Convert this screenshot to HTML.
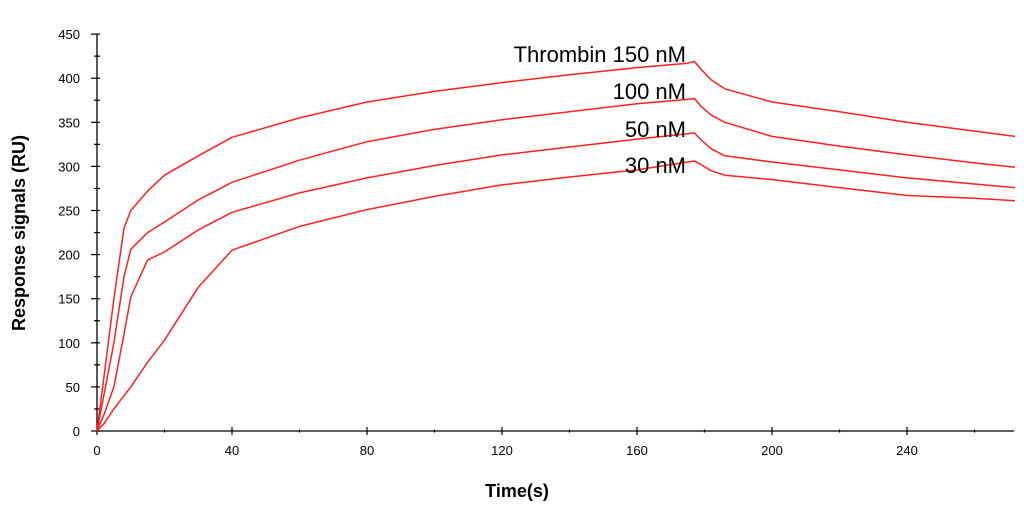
<!DOCTYPE html>
<html><head><meta charset="utf-8"><style>
body{margin:0;background:#fff;}
svg{display:block;font-family:"Liberation Sans",Arial,sans-serif;}
</style></head><body>
<svg id="chart" width="1024" height="512" viewBox="0 0 1024 512">
<g id="axes"></g>
<g id="series"></g>
<text transform="translate(25,233) rotate(-90)" text-anchor="middle" font-size="18" font-weight="bold">Response signals (RU)</text>
<text x="517" y="497" text-anchor="middle" font-size="18" font-weight="bold">Time(s)</text>
<text x="686" y="62" text-anchor="end" font-size="22">Thrombin 150 nM</text>
<text x="686" y="99" text-anchor="end" font-size="22">100 nM</text>
<text x="686" y="137" text-anchor="end" font-size="22">50 nM</text>
<text x="686" y="173" text-anchor="end" font-size="22">30 nM</text>
</svg>
<script>
const times = [0,2,5,8,10,15,20,30,40,60,80,100,120,140,160,175,177,179,182,186,200,220,240,260,272];
const s150 = [0,60,150,230,250,272,290,312,333,355,373,385,395,404,412,417,419,410,398,388,373,362,350,340,334];
const s100 = [0,40,100,175,206,225,237,262,282,307,328,342,353,362,371,376,377,368,358,350,334,323,313,304,299];
const s50  = [0,18,50,110,152,194,203,228,248,270,287,301,313,322,331,337,338,330,320,312,305,296,287,280,276];
const s30  = [0,8,25,40,50,78,103,163,205,232,251,266,279,288,296,305,306,302,295,290,285,276,267,264,261];
const seriesList = [s150,s100,s50,s30];
const seriesNames = ['series-150nm','series-100nm','series-50nm','series-30nm'];
const yTicks = [0,50,100,150,200,250,300,350,400,450];
const xTicks = [0,40,80,120,160,200,240];

const X0=97, PXS=3.375, Y0=431, PYU=0.882;
const xs = t => X0 + t*PXS;
const ys = v => Y0 - v*PYU;
const NS='http://www.w3.org/2000/svg';
const axes=document.getElementById('axes');
function mk(tag,attrs,parent){const e=document.createElementNS(NS,tag);for(const k in attrs)e.setAttribute(k,attrs[k]);parent.appendChild(e);return e;}
let l=mk('line',{x1:X0,y1:ys(450),x2:X0,y2:Y0,stroke:'#000','stroke-width':1.3},axes);


l=mk('line',{x1:X0,y1:Y0,x2:1014,y2:Y0,stroke:'#000','stroke-width':1.3},axes);


for(let v=0;v<=450;v+=25){
  const major=v%50===0;
  const t=mk('line',{x1:major?X0-6:X0-3,y1:ys(v),x2:X0+3,y2:ys(v),stroke:'#000','stroke-width':1.2},axes);
  
  
}
yTicks.forEach(v=>{
  const t=mk('text',{x:80,y:ys(v)+5,'text-anchor':'end','font-size':13},axes);
  t.textContent=v;
  
  
});
for(let v=0;v<=260;v+=20){
  const major=v%40===0;
  const t=mk('line',{x1:xs(v),y1:major?Y0-4:Y0-1.5,x2:xs(v),y2:major?Y0+4:Y0+1.5,stroke:'#000','stroke-width':1.2},axes);
  
  
}
xTicks.forEach(v=>{
  const t=mk('text',{x:xs(v),y:Y0+24,'text-anchor':'middle','font-size':13},axes);
  t.textContent=v;
  
  
});
const sg=document.getElementById('series');
seriesList.forEach((s,i)=>{
  const d=s.map((v,j)=>(j?'L':'M')+xs(times[j]).toFixed(1)+','+ys(v).toFixed(1)).join('');
  const p=mk('path',{d:d,fill:'none',stroke:'#ff2020','stroke-width':1.5,'stroke-linejoin':'round'},sg);
  
  
});
</script>
</body></html>
